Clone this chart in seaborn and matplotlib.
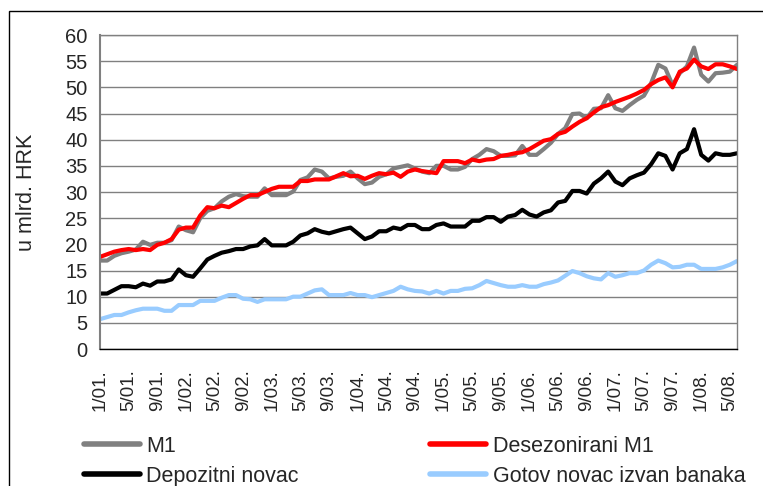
import matplotlib
matplotlib.use("Agg")
import matplotlib.pyplot as plt
import seaborn as sns
import pandas as pd
import numpy as np
from matplotlib.patches import Rectangle
from matplotlib.lines import Line2D

# ---- data (bn HRK, monthly 1/2001 - 6/2008) ----
m1 = [16.9, 16.9, 17.8, 18.3, 18.6, 19.0, 20.5, 19.9, 20.3, 20.3,
      20.8, 23.4, 22.7, 22.3, 25.0, 26.4, 26.9, 28.2, 29.1, 29.6,
      29.2, 29.1, 29.1, 30.7, 29.4, 29.4, 29.4, 30.1, 32.3, 32.8,
      34.3, 33.9, 32.6, 32.9, 33.1, 33.9, 32.6, 31.5, 31.8, 32.9,
      33.4, 34.5, 34.8, 35.1, 34.5, 33.9,
      33.6, 35.0, 35.0, 34.3, 34.3, 34.8, 36.3, 37.1, 38.2, 37.8,
      36.9, 36.9, 37.0, 38.8, 37.1, 37.1, 38.2, 39.4, 41.1, 42.2,
      44.9, 45.0, 44.1, 45.9, 46.0, 48.5, 46.0, 45.5, 46.6, 47.6,
      48.4, 50.8, 54.3, 53.6, 50.4, 52.7, 54.0, 57.6, 52.4, 51.1,
      52.7, 52.8, 53.0, 54.3]

m1_sa = [17.6, 18.1, 18.6, 18.9, 19.1, 18.9, 19.1, 18.9, 19.9, 20.3,
         21.0, 22.8, 23.2, 23.2, 25.5, 27.1, 26.9, 27.4, 27.1, 27.9,
         28.7, 29.4, 29.4, 30.0, 30.6, 31.0, 31.0, 31.0, 32.1, 32.1,
         32.4, 32.4, 32.4, 33.0, 33.6, 33.0, 33.1, 32.5, 33.1, 33.6,
         33.4, 33.7, 32.9, 33.9, 34.3, 34.0,
         33.8, 33.6, 35.9, 35.9, 35.9, 35.5, 36.2, 35.9, 36.2, 36.3,
         36.9, 37.1, 37.4, 37.6, 38.2, 39.0, 39.8, 40.1, 41.1, 41.5,
         42.5, 43.4, 44.1, 45.2, 46.2, 46.6, 47.2, 47.7, 48.2, 48.8,
         49.5, 50.6, 51.4, 51.9, 50.0, 53.0, 53.6, 55.3, 54.0, 53.5,
         54.4, 54.4, 54.0, 53.5]

deposit = [10.6, 10.6, 11.3, 12.0, 12.0, 11.8, 12.5, 12.1, 12.9, 12.9,
           13.3, 15.2, 14.1, 13.8, 15.4, 17.1, 17.8, 18.4, 18.7, 19.1,
           19.1, 19.6, 19.8, 21.0, 19.8, 19.8, 19.8, 20.5, 21.7, 22.1,
           22.9, 22.4, 22.1, 22.5, 22.9, 23.2, 22.1, 21.0, 21.5, 22.5,
           22.5, 23.2, 22.9, 23.7, 23.7, 22.9,
           22.9, 23.7, 24.0, 23.4, 23.4, 23.4, 24.5, 24.5, 25.2, 25.2,
           24.3, 25.3, 25.6, 26.6, 25.7, 25.3, 26.1, 26.5, 28.0, 28.3,
           30.2, 30.2, 29.7, 31.6, 32.6, 33.9, 32.0, 31.3, 32.6, 33.2,
           33.7, 35.3, 37.4, 36.9, 34.3, 37.4, 38.2, 42.0, 37.1, 36.0,
           37.4, 37.1, 37.1, 37.4]

currency = [5.7, 6.1, 6.5, 6.5, 7.0, 7.4, 7.7, 7.7, 7.7, 7.3,
            7.3, 8.4, 8.4, 8.4, 9.2, 9.2, 9.2, 9.8, 10.3, 10.3,
            9.6, 9.5, 9.0, 9.5, 9.5, 9.5, 9.5, 10.0, 10.0, 10.6,
            11.2, 11.4, 10.3, 10.3, 10.3, 10.7, 10.3, 10.3, 9.9, 10.3,
            10.7, 11.1, 11.9, 11.4, 11.1, 11.0,
            10.6, 11.1, 10.6, 11.1, 11.1, 11.5, 11.6, 12.2, 13.0, 12.6,
            12.2, 11.9, 11.9, 12.2, 11.9, 11.9, 12.4, 12.7, 13.1, 14.0,
            14.9, 14.5, 13.9, 13.5, 13.3, 14.5, 13.8, 14.1, 14.5, 14.5,
            15.0, 16.1, 16.9, 16.4, 15.6, 15.7, 16.1, 16.1, 15.3, 15.3,
            15.3, 15.6, 16.1, 16.8]

series_names = ["M1", "Desezonirani M1", "Depozitni novac", "Gotov novac izvan banaka"]
series_colors = ["#808080", "#FF0000", "#000000", "#99CCFF"]

tick_labels = ["1/01.", "5/01.", "9/01.", "1/02.", "5/02.", "9/02.", "1/03.", "5/03.",
               "9/03.", "1/04.", "5/04.", "9/04.", "1/05.", "5/05.", "9/05.", "1/06.",
               "5/06.", "9/06.", "1/07.", "5/07.", "9/07.", "1/08.", "5/08."]

months = [f"{m}/{y:02d}." for y in range(1, 9) for m in range(1, 13)][:len(m1)]

df = pd.DataFrame({
    "idx": np.arange(len(months)),
    "month": months,
    "M1": m1,
    "Desezonirani M1": m1_sa,
    "Depozitni novac": deposit,
    "Gotov novac izvan banaka": currency,
})
long = df.melt(id_vars=["idx", "month"], value_vars=series_names,
               var_name="series", value_name="value")

sns.set_style("white")
plt.rcParams["font.family"] = ["Liberation Sans", "DejaVu Sans"]

fig = plt.figure(figsize=(7.63, 4.86), dpi=100)
ax = fig.add_axes([100 / 763, 1 - 349 / 486, 637 / 763, 314 / 486])

sns.lineplot(data=long, x="idx", y="value", hue="series", hue_order=series_names,
             palette=series_colors, linewidth=3.0, ax=ax, legend=False,
             estimator=None, sort=False)

ax.set_xlim(0, len(months) - 1)
ax.set_ylim(0, 60)
ax.set_yticks(np.arange(0, 61, 5))
tick_pos = [months.index(t) for t in tick_labels]
ax.set_xticks(tick_pos)
ax.set_xticklabels(tick_labels, rotation=90, fontsize=13.5)
ax.tick_params(axis="y", labelsize=14.5, direction="inout", length=8, width=1,
               color="#808080", pad=5)
ax.tick_params(axis="x", direction="inout", length=6.5, width=1, color="black", pad=11)
for lbl in ax.get_xticklabels():
    lbl.set_va("top")

ax.grid(axis="y", color="#808080", linewidth=1)
ax.grid(axis="x", visible=False)
ax.set_axisbelow(True)
for side in ["top", "right", "left"]:
    ax.spines[side].set_color("#808080")
    ax.spines[side].set_linewidth(1)
ax.spines["left"].set_linewidth(1.5)
ax.spines["bottom"].set_color("black")
ax.spines["bottom"].set_linewidth(1)

ax.set_xlabel("")
ax.set_ylabel("u mlrd. HRK", fontsize=15.5)
ax.yaxis.set_label_coords(-0.099, 0.5)

# legend
order = [0, 2, 1, 3]
handles = [Line2D([], [], color=series_colors[i], linewidth=4) for i in order]
labels = [series_names[i] for i in order]
fig.legend(handles, labels, ncol=2, loc="upper left",
           bbox_to_anchor=(84 / 763, 1 - 436 / 486), frameon=False,
           fontsize=15.5, handlelength=2.6, handletextpad=0.3,
           columnspacing=6.1, labelspacing=0.4, borderaxespad=0, borderpad=0)

# outer frame
fig.patches.append(Rectangle((9 / 763, -0.1), 1.2, 1.1 - 11 / 486, transform=fig.transFigure,
                             fill=False, edgecolor="black", linewidth=1))

fig.savefig("out.png", dpi=100)
